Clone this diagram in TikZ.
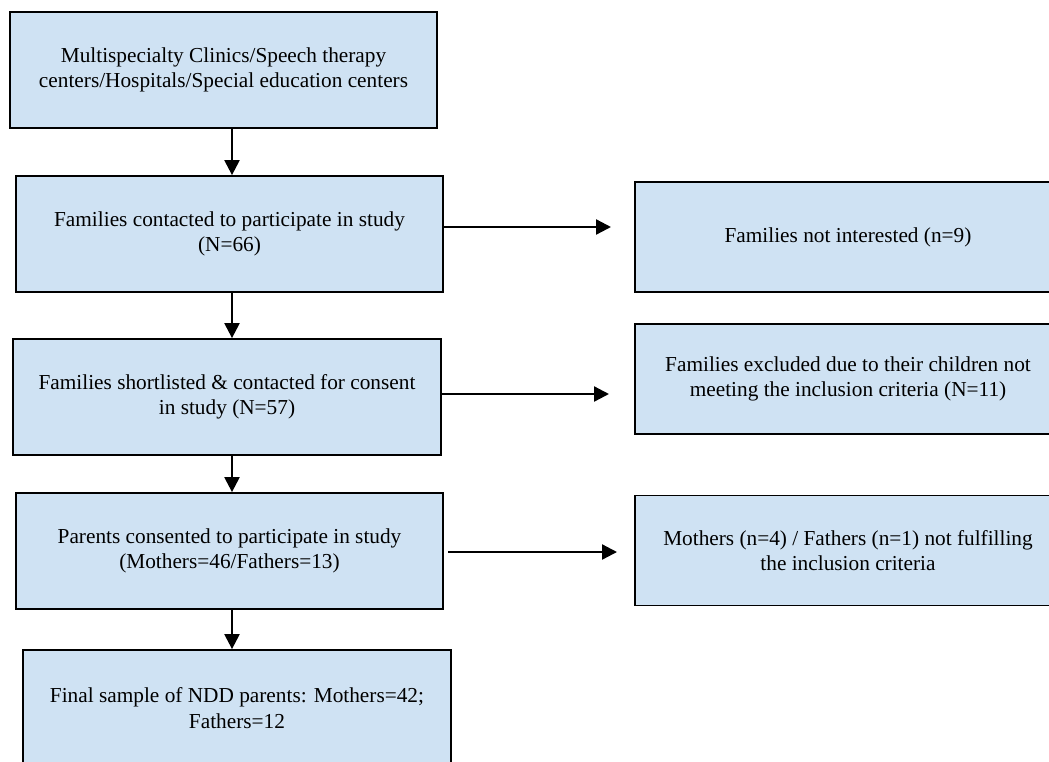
\documentclass[tikz,border=0pt]{standalone}
\usepackage{fontspec}
\setmainfont{Liberation Serif}
\usetikzlibrary{arrows.meta}
\definecolor{boxblue}{RGB}{207,226,243}
\tikzset{
  flowbox/.style={draw=black, line width=1.8pt, fill=boxblue, rectangle,
    inner sep=0pt, align=center, font=\fontsize{21.3}{25.5}\selectfont},
  arr/.style={line width=2.3pt, -{Triangle[length=15pt,width=15pt]}}
}
\begin{document}
\begin{tikzpicture}[x=1pt,y=-1pt]
\useasboundingbox (0,0) rectangle (1049,761);
\clip (0,0) rectangle (1049,761);
% left column
\node[flowbox, minimum width=427pt, minimum height=116pt] (b1) at (223.5,70)
  {Multispecialty Clinics/Speech therapy\\centers/Hospitals/Special education centers};
\node[flowbox, minimum width=427pt, minimum height=116pt] (b2) at (229.5,234)
  {Families contacted to participate in study\\(N=66)};
\node[flowbox, minimum width=428pt, minimum height=116pt] (b3) at (227,397)
  {Families shortlisted \& contacted for consent\\in study (N=57)};
\node[flowbox, minimum width=427pt, minimum height=116pt] (b4) at (229.5,551)
  {Parents consented to participate in study\\(Mothers=46/Fathers=13)};
\node[flowbox, minimum width=428pt, minimum height=116pt] (b5) at (237,708)
  {Final sample of NDD parents: Mothers=42;\\Fathers=12};
% right column
\node[flowbox, minimum width=426pt, minimum height=110pt] (r1) at (848,237)
  {Families not interested (n=9)};
\node[flowbox, minimum width=426pt, minimum height=110pt] (r2) at (848,379)
  {Families excluded due to their children not\\meeting the inclusion criteria (N=11)};
\node[flowbox, minimum width=426pt, minimum height=110pt] (r3) at (848,550.5)
  {Mothers (n=4) / Fathers (n=1) not fulfilling\\the inclusion criteria};
% vertical connectors
\coordinate (xa) at (232,0);
\draw[arr] (b1.south -| xa) -- (b2.north -| xa);
\draw[arr] (b2.south -| xa) -- (b3.north -| xa);
\draw[arr] (b3.south -| xa) -- (b4.north -| xa);
\draw[arr] (b4.south -| xa) -- (b5.north -| xa);
% horizontal connectors
\coordinate (t1) at (611,227);
\coordinate (t2) at (609,394);
\coordinate (s3) at (448,552);
\coordinate (t3) at (617,552);
\draw[arr] (b2.east |- t1) -- (t1);
\draw[arr] (b3.east |- t2) -- (t2);
\draw[arr] (s3) -- (t3);
\end{tikzpicture}
\end{document}
